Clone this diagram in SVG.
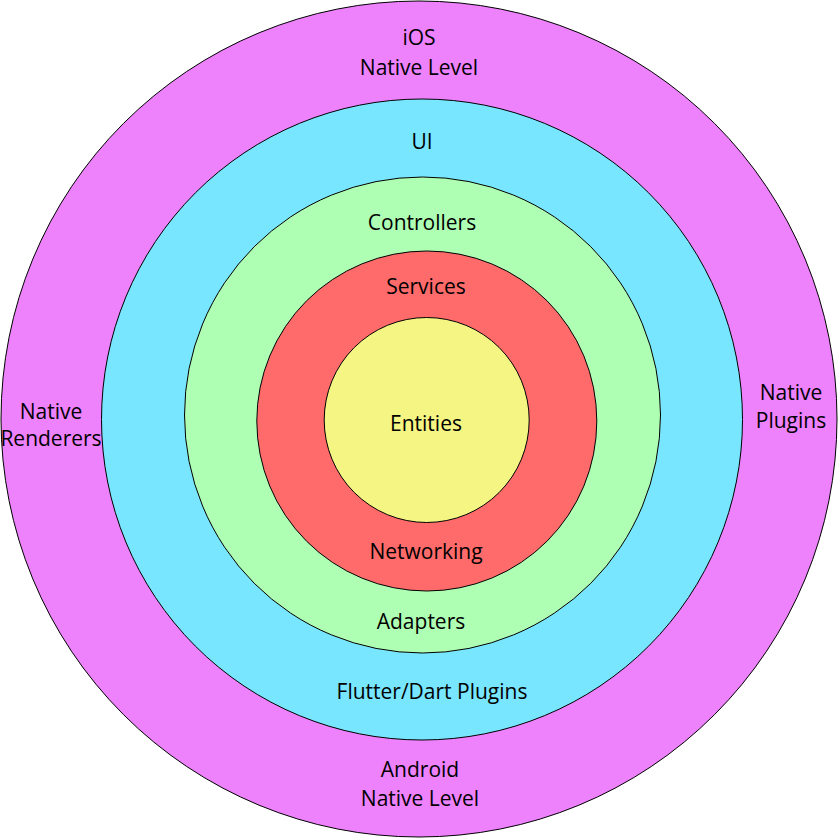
<svg xmlns="http://www.w3.org/2000/svg" width="839" height="839" viewBox="0 0 839 839">
<style>
  .ring { stroke: #000; stroke-width: 1; }
  .lbl { font-family: "Open Sans", "Liberation Sans", sans-serif; font-size: 21px; fill: #000; text-anchor: middle; }
</style>
<rect width="839" height="839" fill="#fff"/>
<g id="native-level">
  <circle class="ring" cx="419" cy="419" r="418" fill="#EE82FD"/>
  <text class="lbl" x="419" y="45">iOS</text>
  <text class="lbl" x="419" y="75">Native Level</text>
  <text class="lbl" x="420" y="777">Android</text>
  <text class="lbl" x="420" y="806">Native Level</text>
  <text class="lbl" x="51" y="419">Native</text>
  <text class="lbl" x="51" y="446">Renderers</text>
  <text class="lbl" x="791" y="400">Native</text>
  <text class="lbl" x="791" y="428">Plugins</text>
</g>
<g id="ui">
  <circle class="ring" cx="422" cy="419.5" r="320.5" fill="#78E6FF"/>
  <text class="lbl" x="422" y="149">UI</text>
  <text class="lbl" x="432" y="699">Flutter/Dart Plugins</text>
</g>
<g id="controllers">
  <circle class="ring" cx="422.5" cy="415" r="238" fill="#AEFFB4"/>
  <text class="lbl" x="422" y="230">Controllers</text>
  <text class="lbl" x="421" y="629">Adapters</text>
</g>
<g id="services">
  <circle class="ring" cx="426.8" cy="421" r="170" fill="#FF6B6B"/>
  <text class="lbl" x="426" y="294">Services</text>
  <text class="lbl" x="426" y="559">Networking</text>
</g>
<g id="entities">
  <circle class="ring" cx="426.7" cy="420" r="102.5" fill="#F4F582"/>
  <text class="lbl" x="426" y="431">Entities</text>
</g>
<g id="connectors"/>
</svg>
